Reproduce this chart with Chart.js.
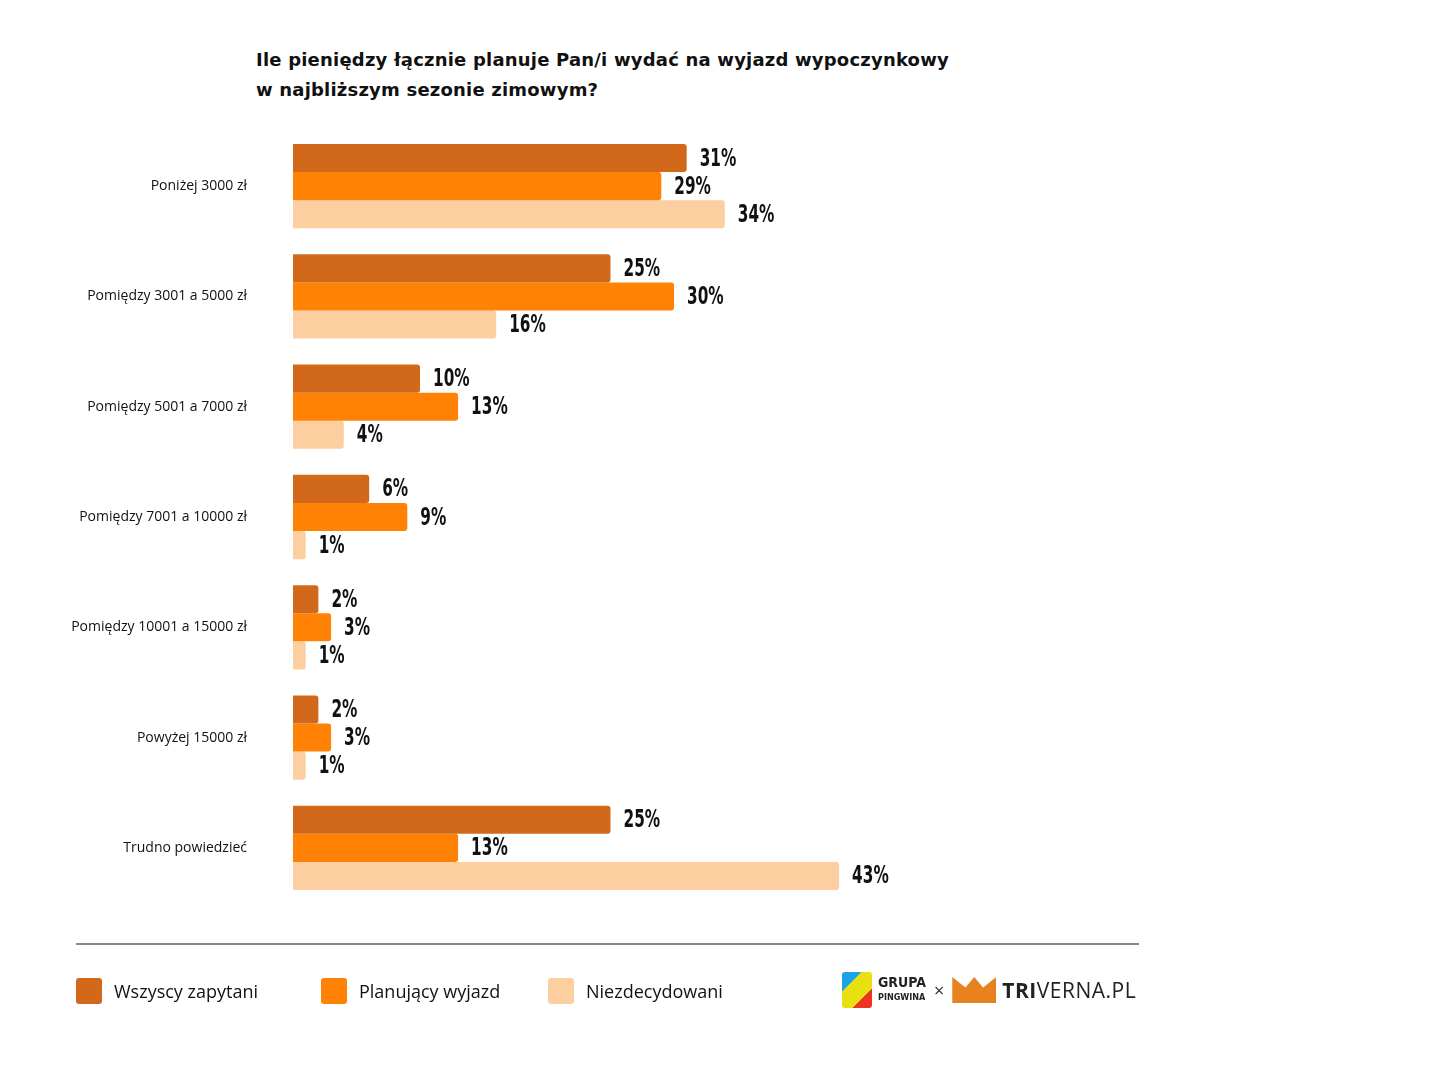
<!DOCTYPE html>
<html><head><meta charset="utf-8">
<script src="https://cdn.jsdelivr.net/npm/chart.js@4"></script>
<style>
body{margin:0;width:1445px;height:1080px;background:#fff;position:relative;font-family:"Open Sans",Lato,sans-serif;overflow:hidden}
#c{position:absolute;left:0;top:0}
.title{position:absolute;left:256px;top:45px;font:700 18px "DejaVu Sans",sans-serif;line-height:30px;color:#111;letter-spacing:0.2px}
.sep{position:absolute;left:76px;top:943px;width:1063px;height:2px;background:#888}
.leg{position:absolute;top:978px;font:400 18px "Open Sans",sans-serif;color:#111;display:flex;align-items:center}
.leg span{display:inline-block;width:26px;height:26px;border-radius:3px;margin-right:12px}
.logo{position:absolute;top:972px;left:842px;display:flex;align-items:center;font-family:"Open Sans",sans-serif}
</style></head><body>
<div class="title">Ile pieniędzy łącznie planuje Pan/i wydać na wyjazd wypoczynkowy<br>w najbliższym sezonie zimowym?</div>
<canvas id="c" width="1445" height="1080"></canvas>
<div class="sep"></div>
<div class="leg" style="left:76px"><span style="background:#D2691A"></span>Wszyscy zapytani</div>
<div class="leg" style="left:321px"><span style="background:#FF8205"></span>Planujący wyjazd</div>
<div class="leg" style="left:548px"><span style="background:#FDCEA0"></span>Niezdecydowani</div>
<div class="logo">
 <div style="width:30px;height:36px;background:linear-gradient(135deg,#1aa3e8 30%,#e8e010 30%,#e8e010 70%,#e32 70%);border-radius:3px"></div>
 <div style="font:800 14px/13px 'DejaVu Sans Condensed',sans-serif;margin-left:6px;color:#222">GRUPA<br><span style="font-size:9px">PINGWINA</span></div>
 <div style="margin:0 8px;font-size:18px;color:#333">×</div>
 <div style="width:44px;height:26px;background:#E8821E;clip-path:polygon(0 0,30% 40%,50% 0,70% 40%,100% 0,100% 100%,0 100%)"></div>
 <div style="margin-left:6px;font-size:21px;color:#222;letter-spacing:0.5px"><b>TRI</b>VERNA.PL</div>
</div>
<script>
const categories=["Poniżej 3000 zł","Pomiędzy 3001 a 5000 zł","Pomiędzy 5001 a 7000 zł","Pomiędzy 7001 a 10000 zł","Pomiędzy 10001 a 15000 zł","Powyżej 15000 zł","Trudno powiedzieć"];
const seriesNames=["Wszyscy zapytani","Planujący wyjazd","Niezdecydowani"];
const wszyscy=[31,25,10,6,2,2,25];
const planujacy=[29,30,13,9,3,3,13];
const niezdecydowani=[34,16,4,1,1,1,43];
const colors=["#D2691A","#FF8205","#FDCEA0"];
const labelsPlugin={id:'vals',afterDatasetsDraw(ch){const c=ch.ctx;c.save();c.font='bold 25px "DejaVu Sans Condensed",sans-serif';c.fillStyle='#111';c.textBaseline='middle';
ch.data.datasets.forEach((d,i)=>{ch.getDatasetMeta(i).data.forEach((b,j)=>{c.save();c.translate(b.x+13,b.y);c.scale(0.68,1);c.fillText(d.data[j]+'%',0,1);c.restore();});});c.restore();}};
new Chart(document.getElementById('c'),{type:'bar',
data:{labels:categories,datasets:[wszyscy,planujacy,niezdecydowani].map((d,i)=>({label:seriesNames[i],data:d,backgroundColor:colors[i],borderRadius:{topRight:3,bottomRight:3},borderSkipped:'start',categoryPercentage:0.764,barPercentage:1}))},
options:{indexAxis:'y',responsive:false,animation:false,layout:{padding:{top:131,bottom:177,left:0,right:517}},
plugins:{legend:{display:false},tooltip:{enabled:false}},
scales:{x:{min:0,max:50,display:false},y:{grid:{display:false},border:{display:false},afterFit(s){s.width=293;},ticks:{padding:38,color:'#111',font:{family:'"Open Sans",sans-serif',size:14}}}}},
plugins:[labelsPlugin]});
</script></body></html>
